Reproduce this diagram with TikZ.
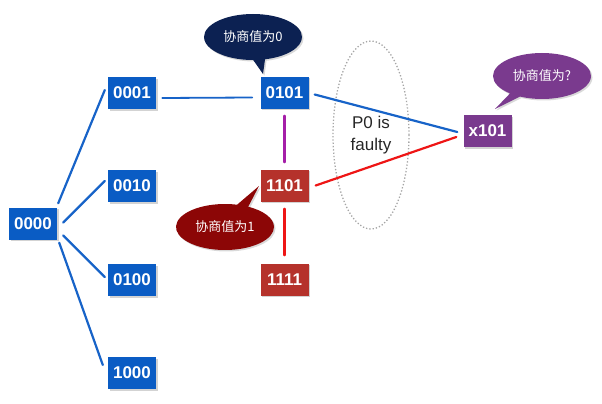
\documentclass[tikz,border=0pt]{standalone}
\usepackage{fontspec}
\setmainfont{Liberation Sans}
\newfontfamily\cjk{Noto Sans CJK SC}
\usetikzlibrary{shapes.geometric,shapes.callouts,shadows,calc}
\definecolor{boxblue}{HTML}{0A5CC4}
\definecolor{boxred}{HTML}{B5322B}
\definecolor{boxpurple}{HTML}{7A3A8E}
\definecolor{calnavy}{HTML}{0C2152}
\definecolor{calred}{HTML}{8C0606}
\definecolor{lineblue}{HTML}{1763C8}
\definecolor{linered}{HTML}{EE1515}
\definecolor{linemag}{HTML}{A51FA8}
\tikzset{
  bbox/.style={rectangle, minimum width=48pt, minimum height=32pt, inner sep=0pt,
    text=white, font=\fontsize{17}{20}\selectfont\bfseries,
    drop shadow={shadow xshift=1.5pt, shadow yshift=-1.5pt, opacity=0.35}},
  bluebox/.style={bbox, fill=boxblue},
  redbox/.style={bbox, fill=boxred},
  purplebox/.style={bbox, fill=boxpurple},
  callbox/.style={ellipse callout, minimum width=98pt, minimum height=46pt, inner sep=0pt,
    text=white, font=\cjk\fontsize{13}{15}\selectfont, callout pointer arc=14,
    drop shadow={shadow xshift=1.5pt, shadow yshift=-1.5pt, opacity=0.3}},
  conn/.style={line width=2.2pt, line cap=round},
}
\begin{document}
\begin{tikzpicture}[x=1pt, y=-1pt]
\useasboundingbox (0,0) rectangle (602,404);
% boxes
\node[bluebox] (n0000) at (33,223.5) {0000};
\node[bluebox] (n0001) at (132,93) {0001};
\node[bluebox] (n0010) at (132,186) {0010};
\node[bluebox] (n0100) at (132,280) {0100};
\node[bluebox] (n1000) at (132,373) {1000};
\node[bluebox] (n0101) at (284.5,92.5) {0101};
\node[redbox] (n1101) at (284.5,185.5) {1101};
\node[redbox] (n1111) at (284.5,279.5) {1111};
\node[purplebox] (x101) at (487.5,131) {x101};
% faulty ellipse
\node[ellipse, draw=gray!70, dotted, line width=1.3pt, minimum width=76pt, minimum height=188pt,
  inner sep=0pt, align=center, text=black!85, font=\fontsize{17}{22}\selectfont] (faulty) at (371,135) {P0 is\\faulty};
% connectors
\draw[conn, lineblue] ($(n0000.north east)+(1,-4)$) -- ($(n0001.west)+(-3,-3)$);
\draw[conn, lineblue] ($(n0000.east)+(6,-1)$) -- ($(n0010.west)+(-3,-5)$);
\draw[conn, lineblue] ($(n0000.east)+(6,12)$) -- ($(n0100.west)+(-3,-3)$);
\draw[conn, lineblue] ($(n0000.south east)+(2,3)$) -- ($(n1000.west)+(-5,-8)$);
\draw[conn, lineblue, line width=1.8pt] ($(n0001.east)+(6,5)$) -- ($(n0101.west)+(-8,5)$);
\draw[conn, linemag] ($(n0101.south)+(0,7)$) -- ($(n1101.north)+(0,-7)$);
\draw[conn, linered] ($(n1101.south)+(0,7)$) -- ($(n1111.north)+(0,-8)$);
\draw[conn, lineblue] ($(n0101.east)+(6,2)$) -- ($(x101.west)+(-6,1)$);
\draw[conn, linered] ($(n1101.east)+(7,0)$) -- ($(x101.west)+(-7,6)$);
% callouts
\node[callbox, fill=calnavy, callout absolute pointer={(263,74)}] (c0) at (253,37) {协商值为0};
\node[callbox, fill=calred, callout absolute pointer={(259,186)}] (c1) at (225,227) {协商值为1};
\node[callbox, fill=boxpurple, callout absolute pointer={(495,109)}] (c2) at (542,76) {协商值为?};
\end{tikzpicture}
\end{document}
